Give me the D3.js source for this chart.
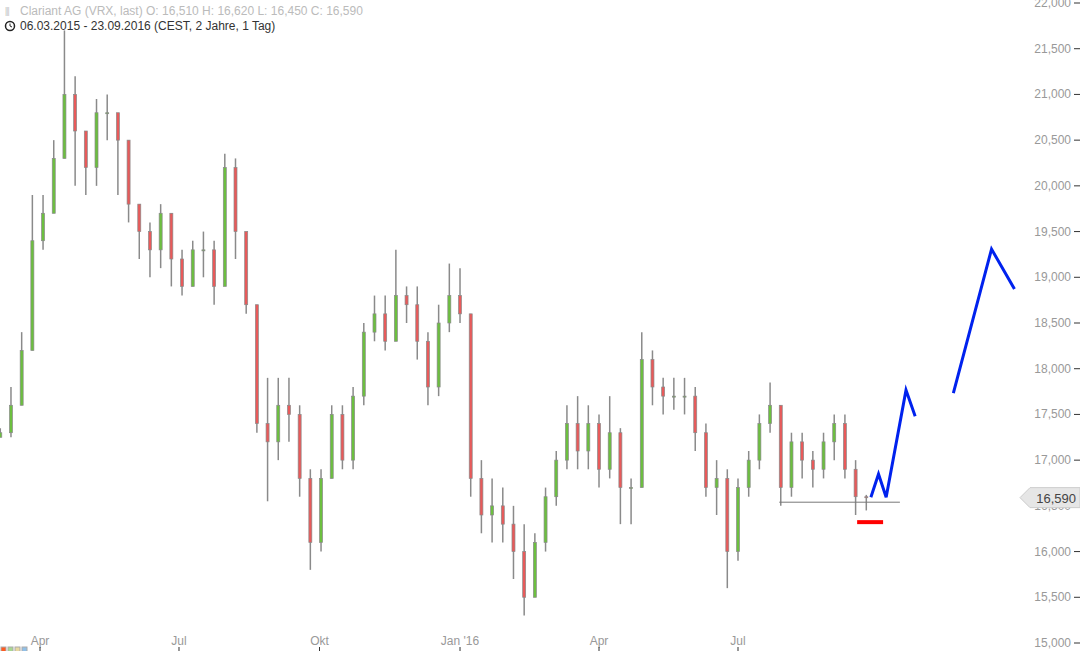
<!DOCTYPE html>
<html><head><meta charset="utf-8">
<script src="https://cdnjs.cloudflare.com/ajax/libs/d3/7.8.5/d3.min.js"></script>
<style>body{margin:0;background:#fff;font-family:Arial,"Liberation Sans",sans-serif}</style>
</head><body><div id="chart"></div>
<script>
// weekly candles, first week 06.03.2015
var startDate = "2015-03-06";
var closes = [17300,17600,18200,19400,19700,20300,21000,20600,20200,20800,20800,20500,19800,19500,19300,19700,19200,18900,19300,19300,18900,20200,19500,18700,17400,17200,17600,17500,16800,16100,16800,17500,17000,17700,18400,18600,18300,18800,18700,18300,17800,18500,18800,18600,16800,16400,16500,16300,16000,15500,16100,16600,17000,17400,17100,17400,16900,17300,16700,16700,18100,17800,17700,17700,17700,17300,16700,16800,16000,16700,17000,17400,17600,16700,17200,17000,16900,17200,17400,16900,16600,16590];
var highs = [17350,17800,18400,19900,19900,20500,21700,21200,20600,20950,21000,20700,20500,19800,19600,19800,19700,19300,19400,19500,19400,20350,20300,19500,18700,17900,17900,17900,17600,16900,16900,17600,17600,17800,18500,18800,18800,19300,18900,18900,18400,18700,19150,19100,18600,17000,16800,16700,16500,16300,16200,16700,17100,17600,17700,17600,17500,17700,17350,16800,18400,18200,17900,17900,17900,17800,17400,17000,16900,16800,17100,17500,17850,17600,17300,17300,17100,17300,17500,17500,17000,16620];
var lows = [17250,17250,17600,18200,19300,19700,20300,20000,19900,20000,20500,19900,19600,19200,19000,19100,18900,18800,18900,19000,18700,19000,19200,18600,17300,16550,17000,17200,16600,15800,16000,16800,16900,16900,17600,18300,18200,18300,18500,18100,17600,17700,18400,18500,16600,16200,16100,16100,15700,15300,15500,16000,16500,16900,16900,16900,16700,16800,16300,16300,16700,17600,17500,17550,17500,17100,16600,16400,15600,15900,16600,16900,17300,16500,16600,16800,16700,16800,17000,16800,16400,16450];
var startOpen = 17250;
// projected path (hand-drawn arrows)
var projDates = ["2016-09-26","2016-10-01","2016-10-06","2016-10-19","2016-10-25"];
var projPrices = [16595,16847,16595,17766,17480];
var proj2Dates = ["2016-11-19","2016-12-14","2016-12-29"];
var proj2Prices = [17733,19308,18871];
var supportLevel = 16540, supportFrom = "2016-07-28", supportTo = "2016-10-15";
var stopLevel = 16322, stopFrom = "2016-09-17", stopTo = "2016-10-04";
var lastPrice = 16590;
var yTicks = [15000,15500,16000,16500,17000,17500,18000,18500,19000,19500,20000,20500,21000,21500,22000];
var monthTicks = [["2015-04-01","Apr"],["2015-07-01","Jul"],["2015-10-01","Okt"],["2016-01-01","Jan '16"],["2016-04-01","Apr"],["2016-07-01","Jul"]];

var parse = d3.timeParse("%Y-%m-%d");
var W = 1080, H = 651;
var svg = d3.select("#chart").append("svg").attr("width", W).attr("height", H);

var x = d3.scaleTime().domain([parse("2015-04-01"), parse("2016-07-01")]).range([40, 738]);
var y = d3.scaleLinear().domain([15000, 22000]).range([643, 3]);
var fmt = d3.format(",");

var candles = closes.map(function (c, i) {
  return { date: d3.timeDay.offset(parse(startDate), i * 7), o: i ? closes[i - 1] : startOpen, h: highs[i], l: lows[i], c: c };
});

// right axis
var ax = svg.append("g");
yTicks.forEach(function (t) {
  ax.append("text").attr("x", 1071).attr("y", y(t) + 4).attr("text-anchor", "end")
    .attr("font-size", 12).attr("fill", "#999").text(fmt(t));
  ax.append("line").attr("x1", 1074).attr("x2", 1080).attr("y1", y(t)).attr("y2", y(t)).attr("stroke", "#333");
});
// bottom month labels
monthTicks.forEach(function (m) {
  var px = x(parse(m[0]));
  svg.append("text").attr("x", px).attr("y", 645).attr("text-anchor", "middle")
    .attr("font-size", 12).attr("fill", "#999").text(m[1]);
  svg.append("line").attr("x1", px).attr("x2", px).attr("y1", 647).attr("y2", 651).attr("stroke", "#333");
});

// candles
var g = svg.append("g");
g.selectAll("line.w").data(candles).enter().append("line")
  .attr("x1", d => x(d.date)).attr("x2", d => x(d.date))
  .attr("y1", d => y(d.h)).attr("y2", d => y(d.l)).attr("stroke", "#8a8a8a").attr("stroke-width", 1.5);
g.selectAll("rect").data(candles).enter().append("rect")
  .attr("x", d => x(d.date) - 1.5).attr("width", 3)
  .attr("y", d => y(Math.max(d.o, d.c)))
  .attr("height", d => Math.max(1, Math.abs(y(d.o) - y(d.c))))
  .attr("fill", d => d.c >= d.o ? "#6cbf3f" : "#e85a5a").attr("stroke", "#8a8a8a").attr("stroke-width", 0.7);

// support and stop lines
svg.append("line").attr("x1", x(parse(supportFrom))).attr("x2", x(parse(supportTo)))
  .attr("y1", y(supportLevel)).attr("y2", y(supportLevel)).attr("stroke", "#777");
svg.append("line").attr("x1", x(parse(stopFrom))).attr("x2", x(parse(stopTo)))
  .attr("y1", y(stopLevel)).attr("y2", y(stopLevel)).attr("stroke", "#ff0000").attr("stroke-width", 4);

var line = d3.line().x(d => x(parse(d[0]))).y(d => y(d[1]));
[[projDates, projPrices], [proj2Dates, proj2Prices]].forEach(function (p) {
  svg.append("path").attr("d", line(d3.zip(p[0], p[1]))).attr("fill", "none")
    .attr("stroke", "#0022ee").attr("stroke-width", 3);
});

// last price flag
var ly = y(lastPrice);
svg.append("path").attr("d", `M1020,${ly} L1030,${ly - 10} L1080,${ly - 10} L1080,${ly + 10} L1030,${ly + 10} Z`)
  .attr("fill", "#e6e6e6").attr("stroke", "#ccc");
svg.append("text").attr("x", 1076).attr("y", ly + 5).attr("text-anchor", "end")
  .attr("font-size", 13).attr("fill", "#444").text(fmt(lastPrice));

// header
svg.append("text").attr("x", 20).attr("y", 15).attr("font-size", 12).attr("fill", "#bbb")
  .text("Clariant AG (VRX, last)  O: 16,510  H: 16,620  L: 16,450  C: 16,590");
svg.append("text").attr("x", 5).attr("y", 15).attr("font-size", 10).attr("fill", "#bbb").text("\u2AFC");
svg.append("circle").attr("cx", 10).attr("cy", 26).attr("r", 4.5).attr("fill", "none").attr("stroke", "#222").attr("stroke-width", 1.5);
svg.append("path").attr("d", "M10,23.5 L10,26 L12,27").attr("stroke", "#222").attr("fill", "none");
svg.append("text").attr("x", 20).attr("y", 30).attr("font-size", 12).attr("fill", "#333")
  .text("06.03.2015 - 23.09.2016 (CEST, 2 Jahre, 1 Tag)");

// small icons bottom-left
["#ff5a1f", "#a8d890", "#e8d8a0", "#90c0e8"].forEach(function (c, i) {
  svg.append("rect").attr("x", 1 + i * 7).attr("y", 647).attr("width", 5).attr("height", 5)
    .attr("fill", c).attr("stroke", "#aaa");
});
</script></body></html>
